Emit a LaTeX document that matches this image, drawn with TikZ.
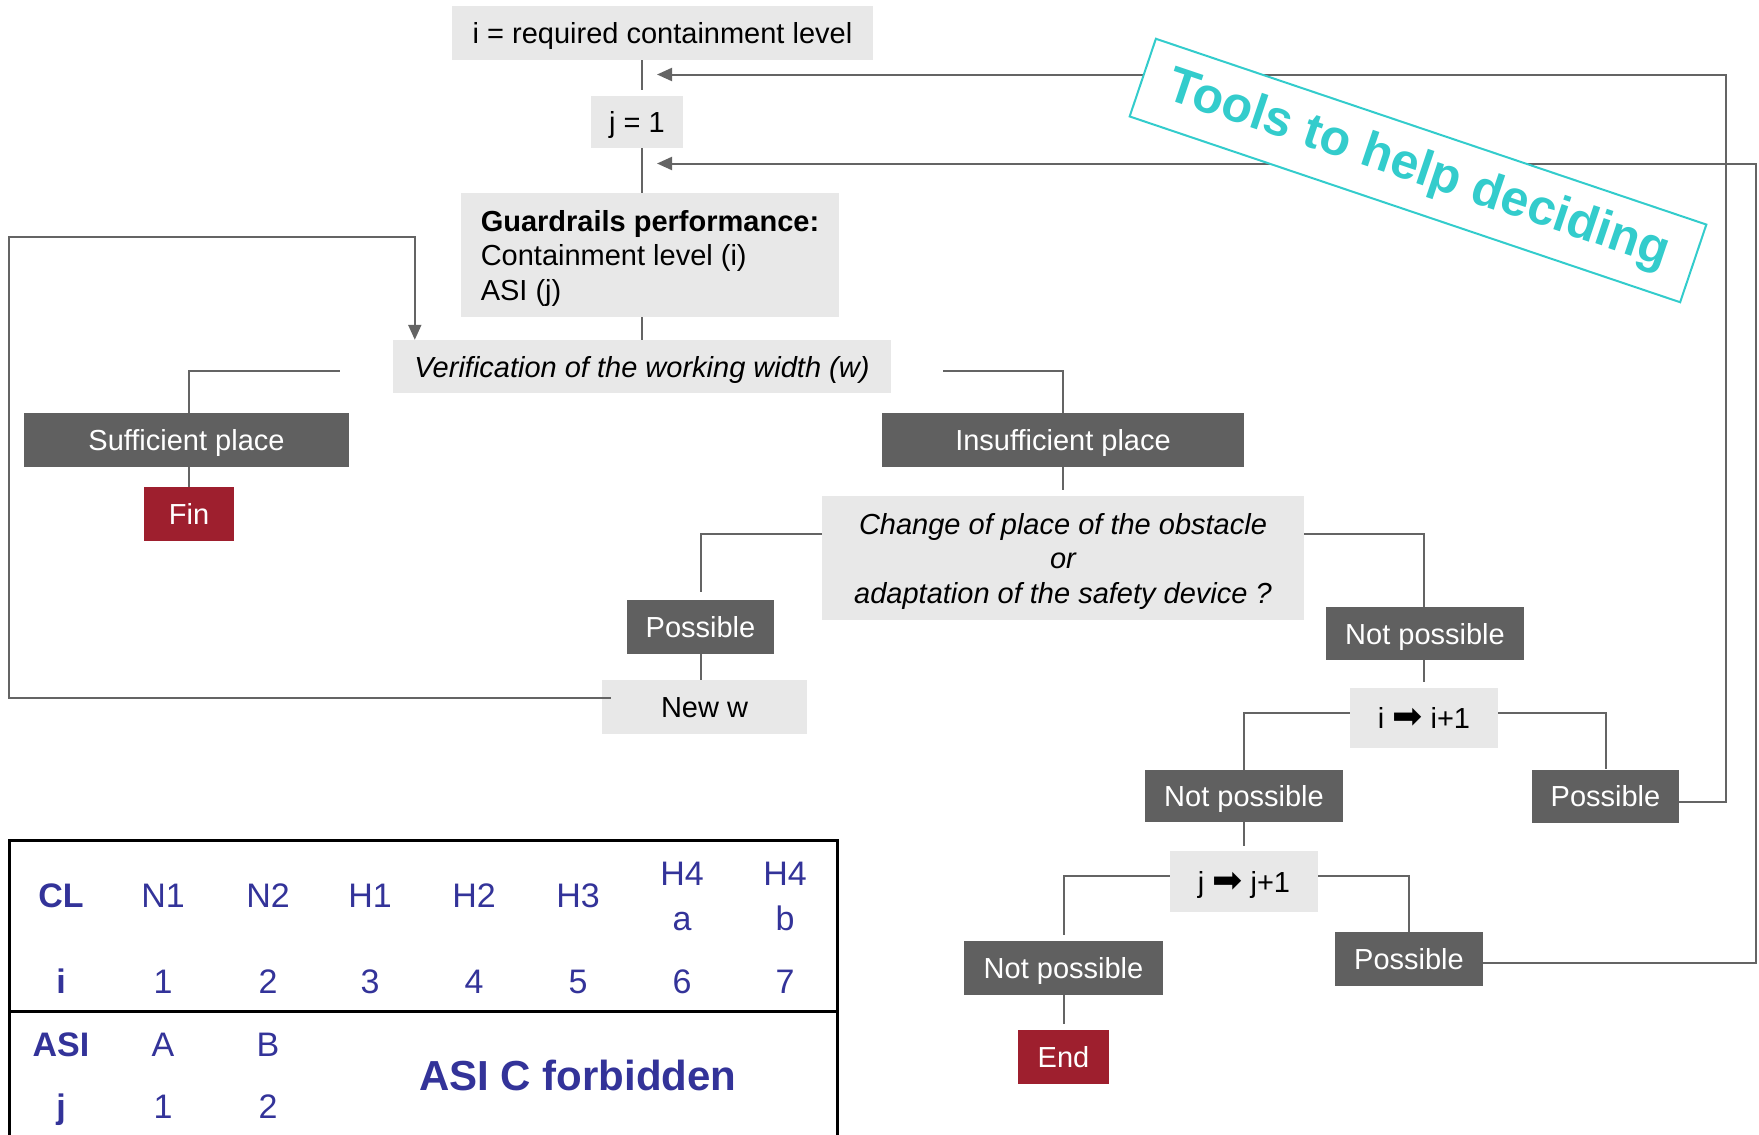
\documentclass[tikz,border=0pt]{standalone}
\usepackage{fontspec}
\setmainfont{Liberation Sans}
\newfontfamily\dingfont{DejaVu Sans}
\usetikzlibrary{arrows.meta}

\definecolor{boxlight}{RGB}{232,232,232}
\definecolor{boxdark}{RGB}{96,96,96}
\definecolor{boxred}{RGB}{158,31,46}
\definecolor{linegrey}{RGB}{100,100,100}
\definecolor{tabblue}{RGB}{51,51,153}
\definecolor{toolcyan}{RGB}{51,204,204}

\def\txt{\fontsize{29}{34.5}\selectfont}
\def\tabtxt{\fontsize{34}{45}\selectfont}
\def\bigarrow{{\dingfont\fontsize{36}{36}\selectfont ➡}}

\tikzset{
	box/.style={inner sep=0pt, text height=21pt, text depth=0pt, font=\txt},
	light/.style={box, fill=boxlight, text=black},
	dark/.style={box, fill=boxdark, text=white},
	endbox/.style={box, fill=boxred, text=white},
	link/.style={draw=linegrey, line width=2pt},
	back/.style={link, -{Triangle[width=13pt,length=15pt]}},
	tab/.style={inner sep=0pt, anchor=base, text=tabblue, font=\tabtxt},
	tools/.style={draw=toolcyan, fill=white, line width=2pt, text=toolcyan,
		font=\fontsize{50}{60}\selectfont\bfseries, inner sep=0pt,
		minimum width=581pt, minimum height=82pt, rotate=-18.65},
}

\begin{document}
\begin{tikzpicture}[x=1pt, y=-1pt]
			%%%%% START %%%%%
			\useasboundingbox (0,0) rectangle (1759,1135);
			
			\coordinate (axis) at (642,0);
			\coordinate (inA) at (657,74.5);
			\coordinate (inB) at (657,163.5);
			\coordinate (railA) at (1726,0);
			\coordinate (railB) at (1756,0);
			\coordinate (loopA) at (9,237);
			
			% main column
			\node[light, minimum width=421pt, minimum height=54pt] (top) at (662.5,33) {i = required containment level};
			\node[light, minimum width=92pt, minimum height=52pt] (jone) at (637,122) {j = 1};
			\node[light, align=left, text height=90pt, minimum width=378pt, minimum height=124pt] (perf) at (650,255)
				{\textbf{Guardrails performance:}\\Containment level (i)\\ASI (j)};
			\node[light, minimum width=498pt, minimum height=53pt] (verif) at (642,366.5) {\itshape Verification of the working width (w)};
			
			% left branch
			\node[dark, minimum width=325pt, minimum height=54pt] (suff) at (186.5,440) {Sufficient place};
			\node[endbox, minimum width=90pt, minimum height=54pt] (fin) at (189,514) {Fin};
			
			% right branch
			\node[dark, minimum width=362pt, minimum height=54pt] (insuff) at (1063,440) {Insufficient place};
			\node[light, align=center, text height=90pt, minimum width=482pt, minimum height=124pt, font=\txt\itshape] (change) at (1063,558)
				{Change of place of the obstacle\\or\\adaptation of the safety device ?};
			\node[dark, minimum width=147pt, minimum height=54pt] (possA) at (700.5,627) {Possible};
			\node[light, minimum width=205pt, minimum height=54pt] (neww) at (704.5,707) {New w};
			
			\node[dark, minimum width=198pt, minimum height=53pt] (notA) at (1425,633.5) {Not possible};
			\node[light, minimum width=148pt, minimum height=60pt] (iinc) at (1424,718) {i \bigarrow{} i+1};
			\node[dark, minimum width=198pt, minimum height=52pt] (notB) at (1244,796) {Not possible};
			\node[dark, minimum width=147pt, minimum height=53pt] (possB) at (1605.5,796) {Possible};
			\node[light, minimum width=148pt, minimum height=61pt] (jinc) at (1244,881.5) {j \bigarrow{} j+1};
			\node[dark, minimum width=199pt, minimum height=54pt] (notC) at (1063.5,968) {Not possible};
			\node[dark, minimum width=148pt, minimum height=54pt] (possC) at (1409,959) {Possible};
			\node[endbox, minimum width=91pt, minimum height=54pt] (endn) at (1063.5,1057) {End};
			
			% connectors
			\draw[link] (top.south -| axis) -- ([yshift=6pt]jone.north -| axis);
			\draw[link] (jone.south -| axis) -- (perf.north -| axis);
			\draw[link] (perf.south -| axis) -- (verif.north -| axis);
			\draw[link] ([xshift=-53pt,yshift=-4pt]verif.west) -| (suff.north -| fin);
			\draw[link] (fin.north |- suff.south) -- (fin.north);
			\draw[link] ([xshift=52pt,yshift=-4pt]verif.east) -| (insuff.north);
			\draw[link] (insuff.south) -- ([yshift=6pt]change.north);
			\draw[link] ([yshift=24pt]change.west) -| ([yshift=8pt]possA.north);
			\draw[link] (possA.south) -- (neww.north -| possA);
			\draw[link] ([yshift=24pt]change.east) -| (notA.north -| iinc);
			\draw[link] (notA.south -| iinc) -- ([yshift=6pt]iinc.north);
			\draw[link] ([yshift=5pt]iinc.west) -| (notB.north);
			\draw[link] ([yshift=5pt]iinc.east) -| (possB.north);
			\draw[link] (notB.south) -- ([yshift=5pt]jinc.north);
			\draw[link] ([yshift=5.5pt]jinc.west) -| ([yshift=6pt]notC.north);
			\draw[link] ([yshift=5.5pt]jinc.east) -| (possC.north);
			\draw[link] (notC.south) -- ([yshift=6pt]endn.north);
			
			% loops back
			\draw[back] ([xshift=9pt,yshift=9pt]neww.west) -| (loopA) -| ([xshift=22pt]verif.north west);
			\draw[back] ([yshift=-6pt]possB.east) -| (railA |- inA) -- (inA);
			\draw[back] ([yshift=-4pt]possC.east) -| (railB |- inB) -- (inB);
			
			% table
			\draw[line width=3pt] (9.2,1140) -- (9.2,840.7) -- (837.4,840.7) -- (837.4,1140);
			\draw[line width=3pt] (9.2,1011.7) -- (837.4,1011.7);
			
			\node[tab, font=\tabtxt\bfseries] (cl) at (61,907) {CL};
			\foreach \lab/\x in {N1/163, N2/268, H1/370, H2/474, H3/578}
				\node[tab] (cl-\lab) at (\x,907) {\lab};
			\node[tab, align=center] (cl-H4a) at (682,930) {H4\\a};
			\node[tab, align=center] (cl-H4b) at (785,930) {H4\\b};
			
			\node[tab, font=\tabtxt\bfseries] (ci) at (61,993) {i};
			\foreach \num/\x in {1/163, 2/268, 3/370, 4/474, 5/578, 6/682, 7/785}
				\node[tab] (ci-\num) at (\x,993) {\num};
			
			\node[tab, font=\tabtxt\bfseries] (asi) at (61,1056) {ASI};
			\node[tab] (asi-A) at (163,1056) {A};
			\node[tab] (asi-B) at (268,1056) {B};
			\node[tab, font=\tabtxt\bfseries] (cj) at (61,1118) {j};
			\node[tab] (cj-1) at (163,1118) {1};
			\node[tab] (cj-2) at (268,1118) {2};
			\node[tab, font=\fontsize{42}{50}\selectfont\bfseries] (forbid) at (578,1090) {ASI C forbidden};
			
			% label on top
			\node[tools] (tools) at (1418,170.5) {Tools to help deciding};
			
			%%%%% END %%%%%
\end{tikzpicture}
\end{document}
